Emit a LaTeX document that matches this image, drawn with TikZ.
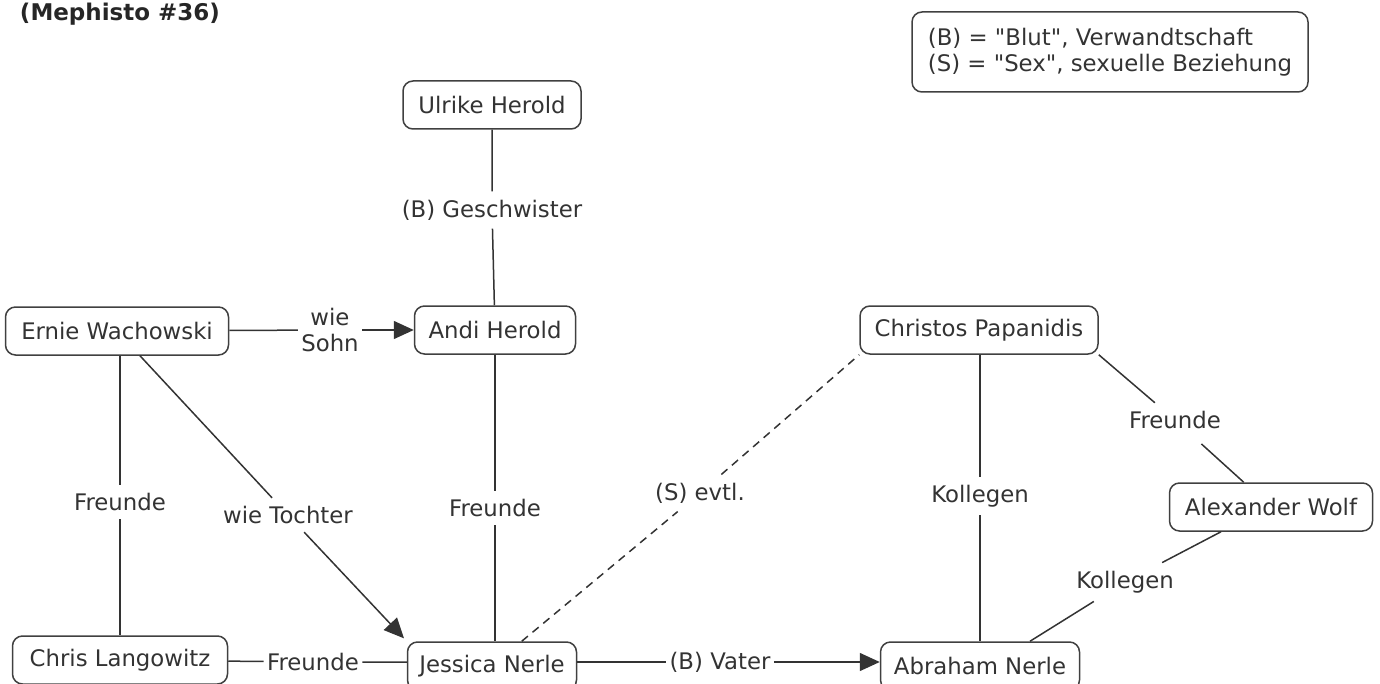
\documentclass[tikz,border=0pt]{standalone}
\usepackage{fontspec}
\setmainfont{DejaVu Sans}
\usetikzlibrary{arrows.meta}

\begin{document}
\begin{tikzpicture}[x=0.5pt,y=-0.5pt,font=\fontsize{11.4}{13}\selectfont,
  person/.style={draw=black!75, line width=0.75pt, rounded corners=5pt, minimum height=24pt, text=black!80},
  rel/.style={text=black!80, inner xsep=1.5pt, inner ysep=4pt, align=center},
  link/.style={draw=black!80, line width=0.75pt},
  arr/.style={link, -{Triangle[length=10pt,width=9pt]}}]

\useasboundingbox (0,0) rectangle (1380,684);

% title and legend
\node[font=\fontsize{11.5}{13}\selectfont\bfseries, text=black!85] (title) at (120,14) {(Mephisto \#36)};
\node[person, align=left, minimum width=198pt, minimum height=40pt] (legend) at (1110,52)
  {(B) = \textquotedbl Blut\textquotedbl, Verwandtschaft\\(S) = \textquotedbl Sex\textquotedbl, sexuelle Beziehung};

% persons
\node[person, minimum width=89pt] (ulrike) at (492,105) {Ulrike Herold};
\node[person, minimum width=80.5pt] (andi) at (495,330) {Andi Herold};
\node[person, minimum width=111.5pt] (ernie) at (117,331) {Ernie Wachowski};
\node[person, minimum width=119pt] (christos) at (979,330) {Christos Papanidis};
\node[person, minimum width=101.5pt] (alexander) at (1271,507) {Alexander Wolf};
\node[person, minimum width=107.5pt] (chris) at (120,660) {Chris Langowitz};
\node[person, minimum width=84.5pt] (jessica) at (492,666) {Jessica Nerle};
\node[person, minimum width=99.5pt] (abraham) at (980,666) {Abraham Nerle};

% relation labels
\node[rel] (lGeschw) at (492,210) {(B) Geschwister};
\node[rel] (lSohn) at (330,330) {wie\\Sohn};
\node[rel] (lFreundeEC) at (120,502) {Freunde};
\node[rel] (lTochter) at (288,515) {wie Tochter};
\node[rel] (lFreundeAJ) at (495,508) {Freunde};
\node[rel] (lFreundeCJ) at (313,662) {Freunde};
\node[rel] (lVater) at (720,662) {(B) Vater};
\node[rel] (lEvtl) at (700,493) {(S) evtl.};
\node[rel] (lKollegenCA) at (980,496) {Kollegen};
\node[rel] (lFreundeCW) at (1175,420) {Freunde};
\node[rel] (lKollegenWA) at (1125,582) {Kollegen};

% connections
\draw[link] (ulrike) -- (lGeschw) -- (andi);
\draw[link] (ernie) -- (lSohn);
\draw[arr] (lSohn) -- (andi);
\draw[link] (ernie.south -| lFreundeEC) -- (lFreundeEC) -- (chris);
\draw[link] (ernie) -- (lTochter);
\draw[arr, shorten >=2pt] (lTochter) -- (jessica.north west);
\draw[link] (andi) -- (lFreundeAJ) -- (jessica.north -| andi);
\draw[link] (chris) -- (lFreundeCJ) -- (jessica.west |- lFreundeCJ);
\draw[link] (jessica.east |- lVater) -- (lVater);
\draw[arr] (lVater) -- (abraham.west |- lVater);
\draw[link, dash pattern=on 4pt off 3pt] (jessica) -- (lEvtl) -- (christos.south west);
\draw[link] (christos.south -| lKollegenCA) -- (lKollegenCA) -- (abraham.north -| lKollegenCA);
\draw[link, shorten <=5pt] (christos.south east) -- (lFreundeCW) -- (alexander);
\draw[link] ([xshift=-25pt]alexander.south) -- (lKollegenWA) -- ([xshift=25pt]abraham.north);

\end{tikzpicture}
\end{document}
